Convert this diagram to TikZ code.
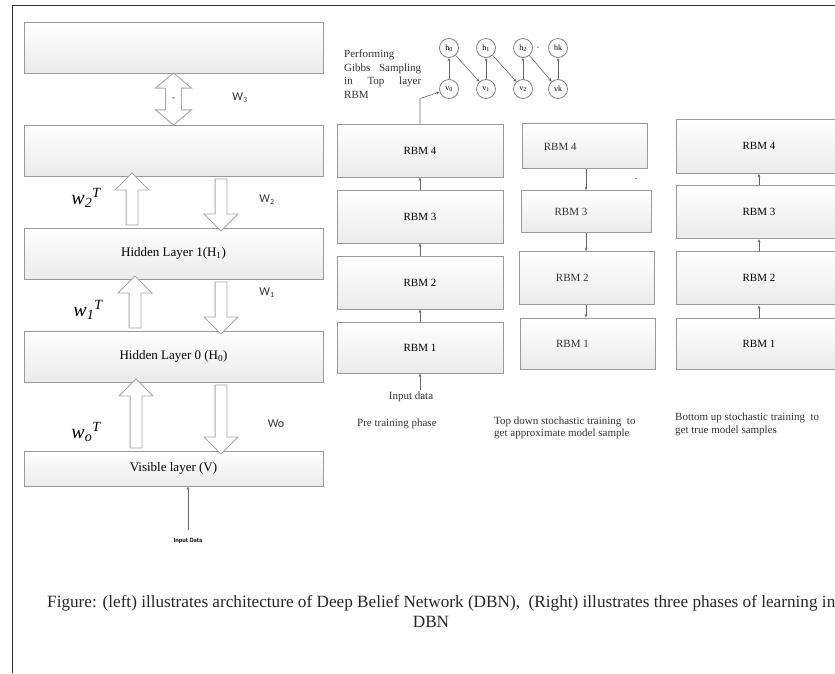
\documentclass[tikz,border=0pt]{standalone}
\usepackage{fontspec}
\setmainfont{Liberation Serif}
\newfontfamily\calibri{Carlito}
\usetikzlibrary{shapes.arrows,arrows.meta,calc}

\tikzset{
 box/.style={draw=black!40, line width=1pt, top color=white, bottom color=black!8, inner sep=0pt},
 layer/.style={box, minimum width=299pt, minimum height=51pt, font=\fontsize{13}{15}\selectfont},
 rbm/.style={box, font=\fontsize{11}{13}\selectfont},
 blockup/.style={single arrow, draw=black!35, fill=white, line width=0.9pt, inner sep=5.5pt,
  single arrow head extend=11pt, single arrow tip angle=90, rotate=90},
 blockdown/.style={single arrow, draw=black!35, fill=white, line width=0.9pt, inner sep=5.5pt,
  single arrow head extend=11pt, single arrow tip angle=90, rotate=-90},
 blockboth/.style={double arrow, draw=black!35, fill=white, line width=0.9pt, inner sep=7.5pt,
  double arrow head extend=10pt, double arrow tip angle=100, rotate=90},
 wlbl/.style={font=\calibri\fontsize{12}{14}\selectfont, text=black!80, inner sep=0pt},
 wt/.style={font=\fontsize{20}{22}\selectfont\itshape, inner sep=0pt},
 txt/.style={font=\fontsize{11}{12.5}\selectfont, text=black!80, inner sep=0pt},
 gnode/.style={circle, draw=black!50, line width=0.8pt, minimum size=19pt, inner sep=0pt,
  font=\fontsize{8}{9}\selectfont},
 link/.style={draw=black!60, line width=0.6pt, -{Stealth[length=3.5pt,width=2.8pt]}}
}

\begin{document}
\begin{tikzpicture}[x=1pt,y=-1pt]
\clip (0,0) rectangle (835,673);
\draw[line width=1pt, black!80] (12,673) -- (12,5) -- (835,5);

% left: DBN architecture
\node[layer] (top) at (173.5,47.5) {};
\node[layer] (upper) at (173.5,150.5) {};
\node[layer] (hid1) at (173.5,253.5) {Hidden Layer 1(H\textsubscript{1})};
\node[layer] (hid0) at (173.5,356.5) {Hidden Layer 0 (H\textsubscript{0})};
\node[layer, minimum height=35pt] (vis) at (173.5,468.5) {Visible layer (V)};

\node[blockboth, minimum height=52pt] (a3) at ($(top.south)!.5!(upper.north)$) {};
\node[txt, font=\fontsize{9}{10}\selectfont] (a3m) at (a3) {-};
\node[wlbl] (lw3) at (240,98) {W\textsubscript{3}};

\node[blockup, minimum height=52pt] (u2) at ($(upper.south)!.5!(hid1.north)+(-41.5,0)$) {};
\node[blockdown, minimum height=52pt] (d2) at ($(upper.south)!.5!(hid1.north)+(47.5,0)$) {};
\node[wlbl] (lw2) at (267,200) {W\textsubscript{2}};
\node[wt] (lt2) at (86,198) {w\textsubscript{2}\textsuperscript{T}};

\node[blockup, minimum height=52pt] (u1) at ($(hid1.south)!.5!(hid0.north)+(-38.5,0)$) {};
\node[blockdown, minimum height=52pt] (d1) at ($(hid1.south)!.5!(hid0.north)+(47.5,0)$) {};
\node[wlbl] (lw1) at (267,293) {W\textsubscript{1}};
\node[wt] (lt1) at (88,310) {w\textsubscript{1}\textsuperscript{T}};

\node[blockup, minimum height=69pt] (u0) at ($(hid0.south)!.5!(vis.north)+(-37.5,0)$) {};
\node[blockdown, minimum height=69pt] (d0) at ($(hid0.south)!.5!(vis.north)+(47.5,0)$) {};
\node[wlbl] (lw0) at (276,424) {Wo};
\node[wt] (lt0) at (86,432) {w\textsubscript{o}\textsuperscript{T}};

\node[font=\calibri\bfseries\fontsize{6.5}{7}\selectfont, inner sep=0pt] (in0) at (188,541) {Input Data};
\coordinate (in0c) at (188,530);
\draw[link] (in0c) -- (in0c |- vis.south);

% right: pre training
\node[rbm, minimum width=166pt, minimum height=53pt] (r4) at (420,150.5) {RBM 4};
\node[rbm, minimum width=166pt, minimum height=53pt] (r3) at (420,216.5) {RBM 3};
\node[rbm, minimum width=166pt, minimum height=53pt] (r2) at (420,282.5) {RBM 2};
\node[rbm, minimum width=166pt, minimum height=51pt] (r1) at (420,347.5) {RBM 1};
\draw[link] (r1) -- (r2);
\draw[link] (r2) -- (r3);
\draw[link] (r3) -- (r4);
\node[txt] (in1) at (411,397) {Input data};
\coordinate (in1c) at (420,390);
\draw[link] (in1c) -- (r1.south);
\node[txt, anchor=west] (pre) at (357,424) {Pre training phase};

\node[txt, anchor=north west, text width=77pt, align=left, font=\fontsize{11}{13.5}\selectfont] (gibbs) at (344,50)
 {Performing\\Gibbs\hfill Sampling\\in\hfill Top\hfill layer\\RBM};

\node[gnode] (h0) at (449,48) {h\textsubscript{0}};
\node[gnode] (h1) at (486,48) {h\textsubscript{1}};
\node[gnode] (h2) at (523,48) {h\textsubscript{2}};
\node[gnode] (hk) at (558,48) {hk};
\node[gnode] (v0) at (449,89) {v\textsubscript{0}};
\node[gnode] (v1) at (486,89) {v\textsubscript{1}};
\node[gnode] (v2) at (523,89) {v\textsubscript{2}};
\node[gnode] (vk) at (558,89) {vk};
\node[txt, font=\fontsize{8}{9}\selectfont] (hdots) at (538,48) {-};
\draw[link] (v0) -- (h0);
\draw[link] (v1) -- (h1);
\draw[link] (v2) -- (h2);
\draw[link] (vk) -- (hk);
\draw[link] (h0) -- (v1);
\draw[link] (h1) -- (v2);
\draw[link] (h2) -- (vk);
\draw[link] (r4.north) -- ++(0,-25) -- (v0);

% right: top down
\node[rbm, minimum width=125pt, minimum height=45pt, label={[txt, xshift=-25pt]center:RBM 4}] (r4b) at (585.2,146.4) {};
\node[rbm, minimum width=130pt, minimum height=42pt, label={[txt, xshift=-15pt]center:RBM 3}] (r3b) at (586,211.7) {};
\node[rbm, minimum width=135pt, minimum height=53pt, label={[txt, xshift=-15pt]center:RBM 2}] (r2b) at (587.3,278.2) {};
\node[rbm, minimum width=135pt, minimum height=51pt, label={[txt, xshift=-15pt]center:RBM 1}] (r1b) at (587.5,343.5) {};
\draw[link] (r4b.south -| 586,0) -- (r3b.north -| 586,0);
\draw[link] (r3b.south -| 586,0) -- (r2b.north -| 586,0);
\draw[link] (r2b.south -| 586,0) -- (r1b.north -| 586,0);
\node[txt, font=\fontsize{7}{8}\selectfont] (tdm) at (636,180) {-};
\node[txt, anchor=west, align=left] (topdown) at (494,428) {Top down stochastic training\ \ to\\get approximate model sample};

% right: bottom up
\node[rbm, minimum width=166pt, minimum height=54pt] (r4c) at (759,146.3) {RBM 4};
\node[rbm, minimum width=166pt, minimum height=52.7pt] (r3c) at (759,212.3) {RBM 3};
\node[rbm, minimum width=166pt, minimum height=53.3pt] (r2c) at (759,278.3) {RBM 2};
\node[rbm, minimum width=166pt, minimum height=51pt] (r1c) at (759,343.8) {RBM 1};
\draw[link] (r1c) -- (r2c);
\draw[link] (r2c) -- (r3c);
\draw[link] (r3c) -- (r4c);
\node[txt, anchor=west, align=left] (botup) at (675,424.5) {Bottom up stochastic training\ \ to\\get true model samples};

\node[anchor=west, inner sep=0pt, font=\fontsize{17.2}{19}\selectfont, text=black!85] (cap1) at (47,603)
 {Figure: (left) illustrates architecture of Deep Belief Network (DBN),\ \ (Right) illustrates three phases of learning in};
\node[inner sep=0pt, font=\fontsize{17.2}{19}\selectfont, text=black!85] (cap2) at (431,622) {DBN};
\end{tikzpicture}
\end{document}
